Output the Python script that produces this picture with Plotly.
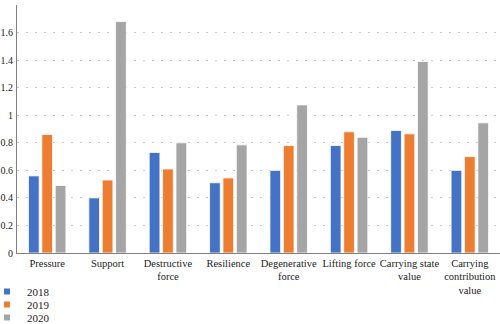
import plotly.graph_objects as go

categories = ["Pressure", "Support", "Destructive<br>force", "Resilience",
              "Degenerative<br>force", "Lifting force", "Carrying state<br>value",
              "Carrying<br>contribution<br>value"]
years = ["2018", "2019", "2020"]
v2018 = [0.56, 0.40, 0.73, 0.51, 0.60, 0.78, 0.89, 0.60]
v2019 = [0.86, 0.53, 0.61, 0.545, 0.78, 0.88, 0.865, 0.70]
v2020 = [0.49, 1.68, 0.80, 0.785, 1.075, 0.84, 1.39, 0.945]
colors = ["#4472C4", "#ED7D31", "#A5A5A5"]
series = [v2018, v2019, v2020]
yticks = [0, 0.2, 0.4, 0.6, 0.8, 1, 1.2, 1.4, 1.6, 1.8]
yticklabels = ["0", "0.2", "0.4", "0.6", "0.8", "1", "1.2", "1.4", "1.6", "1.8"]

W, H = 500, 324
ml, mr, mt, mb = 17, 0, 5, 71
ph = H - mt - mb

fig = go.Figure()
legend_px = [291.5, 304.5, 317.5]
for i, (yr, vals, c) in enumerate(zip(years, series, colors)):
    fig.add_trace(go.Bar(x=categories, y=vals, name=yr, marker_color=c,
                         marker_line=dict(color="rgba(255,255,255,0.8)", width=1),
                         showlegend=False))
    lg = "legend" if i == 0 else f"legend{i+1}"
    fig.add_trace(go.Scatter(x=[None], y=[None], mode="markers", name=yr,
                             marker=dict(symbol="square", size=6, color=c),
                             legend=lg, showlegend=True))

font_fam = "Liberation Serif"
legend_common = dict(bgcolor="rgba(0,0,0,0)", borderwidth=0,
                     font=dict(family=font_fam, size=11, color="#222"),
                     xanchor="left", yanchor="middle", x=-30/483)
legends = {}
for i, p in enumerate(legend_px):
    key = "legend" if i == 0 else f"legend{i+1}"
    legends[key] = dict(legend_common, y=(H - mb - p) / ph)

fig.update_layout(
    width=W, height=H,
    margin=dict(l=ml, r=mr, t=mt, b=mb, autoexpand=False),
    paper_bgcolor="white", plot_bgcolor="white",
    barmode="group", bargap=0.335, bargroupgap=0.2,
    font=dict(family=font_fam, size=10, color="#222"),
    **legends,
)
fig.update_xaxes(showline=True, linecolor="#7f7f7f", linewidth=1,
                 showgrid=False, ticks="", tickangle=0, ticklabelstandoff=0,
                 tickfont=dict(family=font_fam, size=10.5, color="#222"))
fig.update_yaxes(range=[0, 1.8005], tickvals=yticks, ticktext=yticklabels,
                 showline=True, linecolor="#7f7f7f", linewidth=1,
                 showgrid=True, gridcolor="#c8c8c8", gridwidth=1, griddash="2px,7px",
                 zeroline=False, ticks="", ticklabelstandoff=1,
                 tickfont=dict(family=font_fam, size=10, color="#222"))

fig.write_html("out.html")
